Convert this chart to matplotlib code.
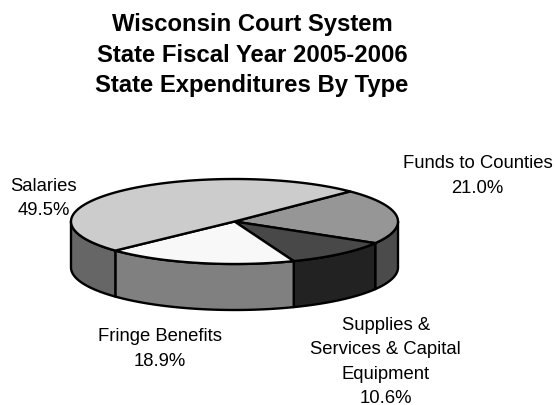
import numpy as np
import matplotlib
matplotlib.use("Agg")
import matplotlib.pyplot as plt
from matplotlib.patches import Polygon

plt.rcParams["font.family"] = ["Liberation Sans", "DejaVu Sans"]

# data
categories = ["Funds to Counties", "Supplies &\nServices & Capital\nEquipment", "Fringe Benefits", "Salaries"]
shares = [21.0, 10.6, 18.9, 49.5]
top_colors = ["#969696", "#484848", "#f8f8f8", "#cccccc"]
side_colors = ["#4b4b4b", "#222222", "#808080", "#666666"]
label_pos = [(477.5, 176), (385.7, 362), (159.5, 349), (44, 198.5)]

cx, cy = 234.5, 222.5
rx, ry = 163.5, 42.5
depth = 46
start = 45.0

fig = plt.figure(figsize=(5.56, 4.06), dpi=100)
ax = fig.add_axes([0, 0, 1, 1])
ax.set_xlim(0, 556)
ax.set_ylim(406, 0)
ax.axis("off")


def rim(a, b):
    t = np.radians(np.linspace(a, b, 100))
    return np.column_stack([cx + rx * np.cos(t), cy - ry * np.sin(t)])


a = start
for share, top, side in zip(shares, top_colors, side_colors):
    b = a - share * 3.6
    # side wall only on the front half
    lo, hi = max(b, -180), min(a, 0)
    if hi > lo:
        edge = rim(hi, lo)
        wall = np.vstack([edge, edge[::-1] + [0, depth]])
        ax.add_patch(Polygon(wall, closed=True, fc=side, ec="black", lw=1.7, joinstyle="round"))
    pts = np.vstack([[cx, cy], rim(a, b)])
    ax.add_patch(Polygon(pts, closed=True, fc=top, ec="black", lw=1.7, joinstyle="round", zorder=3))
    a = b

title = "Wisconsin Court System\nState Fiscal Year 2005-2006\nState Expenditures By Type"
ax.text(252, 55, title, ha="center", va="center", fontsize=17.2, fontweight="bold", linespacing=1.44)

for name, share, (x, y) in zip(categories, shares, label_pos):
    ax.text(x, y, f"{name}\n{share:.1f}%", ha="center", va="center", fontsize=13.3, linespacing=1.58)

fig.savefig("out.png", dpi=100, facecolor="white")
